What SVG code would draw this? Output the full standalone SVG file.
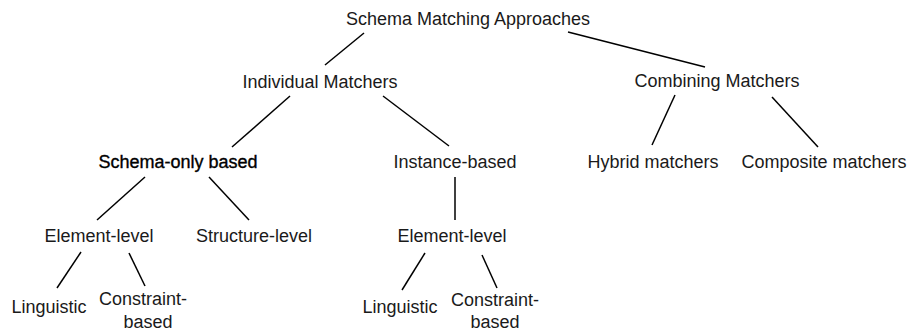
<svg xmlns="http://www.w3.org/2000/svg" width="911" height="334" viewBox="0 0 911 334">
<style>
text{font-family:"Liberation Sans",Arial,sans-serif;font-size:18px;fill:#1a1a1a;text-anchor:middle}
.b{fill:#000;stroke:#000;stroke-width:0.35}
line{stroke:#000;stroke-width:1.5}
</style>
<rect width="911" height="334" fill="#fff"/>
<g id="connectors">
<line x1="364" y1="33" x2="325" y2="65"/>
<line x1="568" y1="32" x2="705" y2="67"/>
<line x1="290" y1="96" x2="232" y2="147"/>
<line x1="383" y1="96" x2="449" y2="146"/>
<line x1="675" y1="95" x2="652" y2="145"/>
<line x1="772" y1="97" x2="818" y2="147"/>
<line x1="145" y1="177" x2="97" y2="220"/>
<line x1="209" y1="177" x2="249" y2="220"/>
<line x1="455" y1="177" x2="455" y2="220"/>
<line x1="81" y1="252" x2="57" y2="288"/>
<line x1="129" y1="253" x2="145" y2="286"/>
<line x1="425" y1="253" x2="402" y2="290"/>
<line x1="482" y1="255" x2="497" y2="288"/>
</g>
<g id="root"><text x="468" y="25">Schema Matching Approaches</text></g>
<g id="individual"><text x="320" y="88">Individual Matchers</text></g>
<g id="combining"><text x="717" y="87">Combining Matchers</text></g>
<g id="schema-only"><text class="b" x="178" y="168">Schema-only based</text></g>
<g id="instance"><text x="455" y="168">Instance-based</text></g>
<g id="hybrid"><text x="653" y="168">Hybrid matchers</text></g>
<g id="composite"><text x="824" y="168">Composite matchers</text></g>
<g id="element-left"><text x="99" y="242">Element-level</text></g>
<g id="structure"><text x="254" y="242">Structure-level</text></g>
<g id="element-right"><text x="452" y="242">Element-level</text></g>
<g id="linguistic-left"><text x="49" y="313">Linguistic</text></g>
<g id="constraint-left"><text x="143" y="305">Constraint-</text><text x="148" y="328">based</text></g>
<g id="linguistic-right"><text x="400" y="313">Linguistic</text></g>
<g id="constraint-right"><text x="495" y="306">Constraint-</text><text x="495" y="328">based</text></g>
</svg>
